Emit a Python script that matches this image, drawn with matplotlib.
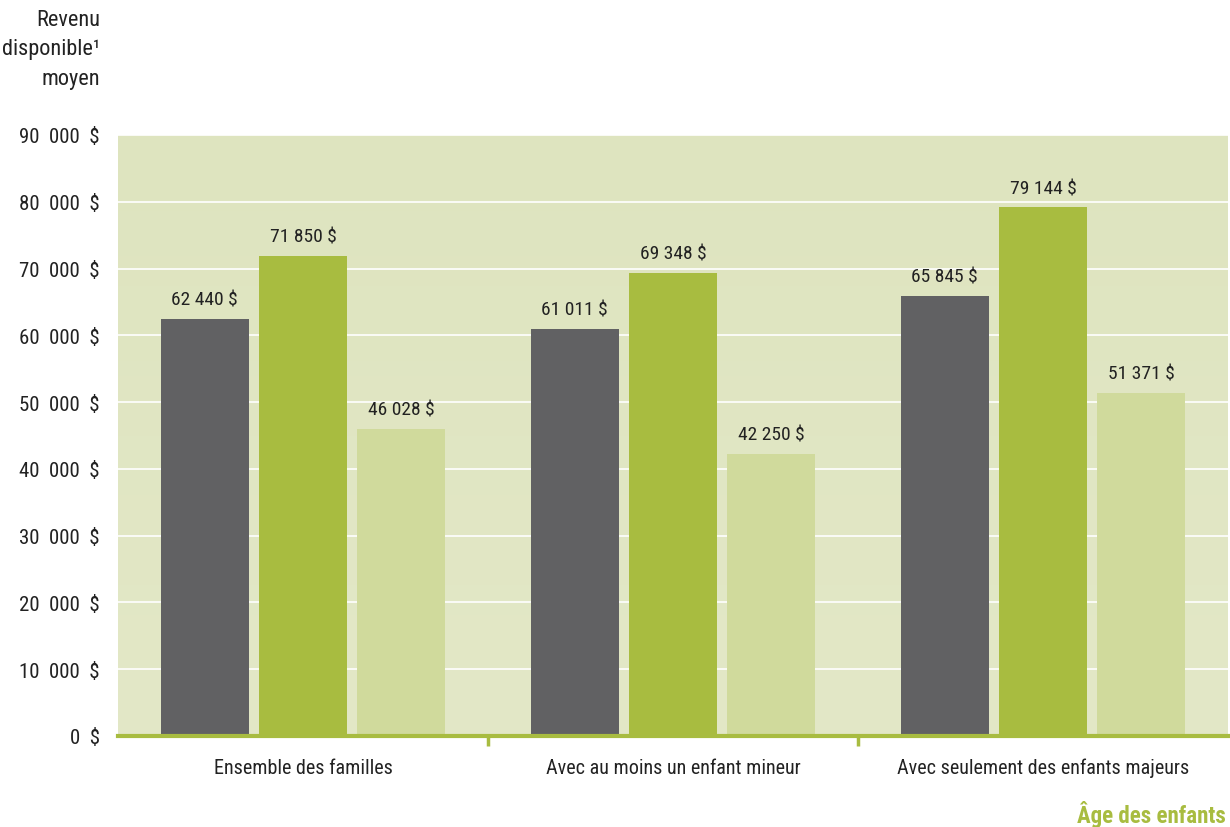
import matplotlib
matplotlib.use("Agg")
import matplotlib.pyplot as plt
import numpy as np
from matplotlib import font_manager

names = {f.name for f in font_manager.fontManager.ttflist}
FONT = "Roboto"
for cand in ["Liberation Sans Narrow", "Roboto Condensed"]:
    if cand in names:
        FONT = cand
        break
plt.rcParams['font.family'] = [FONT, 'DejaVu Sans']

categories = ["Ensemble des familles", "Avec au moins un enfant mineur",
              "Avec seulement des enfants majeurs"]
series_dark = [62440, 61011, 65845]
series_green = [71850, 69348, 79144]
series_light = [46028, 42250, 51371]
yticks = [0, 10000, 20000, 30000, 40000, 50000, 60000, 70000, 80000, 90000]

def fmt(v, sep=" "):
    s = f"{v:,}".replace(",", sep)
    return s + sep + "$"

TXT = '#222222'
fig = plt.figure(figsize=(12.3, 8.28), dpi=100)
ax = fig.add_axes([118/1230, 1-737/828, 1110/1230, (737-136)/828])

# gradient background
grad = np.linspace(0, 1, 256).reshape(-1, 1)
c_bot = np.array([227, 232, 199]) / 255
c_top = np.array([222, 228, 191]) / 255
img = c_bot[None, None, :] * (1 - grad[:, :, None]) + c_top[None, None, :] * grad[:, :, None]
ax.imshow(img, extent=[-0.5, 2.5, 0, 90000], aspect='auto', origin='lower', zorder=0)

x = np.arange(len(categories))
w = 0.238
off = 0.266
colors = ["#616163", "#A8BC40", "#D0DA9C"]
for i, (vals, c) in enumerate(zip([series_dark, series_green, series_light], colors)):
    xs = x + (i - 1) * off
    ax.bar(xs, vals, width=w, color=c, zorder=3)
    for xi, v in zip(xs, vals):
        ax.text(xi, v + 2900, fmt(v), ha='center', va='center', fontsize=14, color=TXT)

ax.set_xlim(-0.5, 2.5)
ax.set_ylim(0, 90000)
for t in yticks[1:]:
    ax.axhline(t, color='white', lw=1.2, zorder=1)
ax.set_yticks(yticks)
ax.set_yticklabels([fmt(t, "  ") if t else "0  $" for t in yticks], fontsize=15, color=TXT)
ax.tick_params(axis='y', length=0, pad=13)

ax.set_xticks([0.5, 1.5])
ax.set_xticklabels([])
ax.tick_params(axis='x', length=7, width=2.5, color='#A8BC40', direction='out')
for xi, lab in zip(x, categories):
    ax.text(xi, -4700, lab, ha='center', va='center', fontsize=14.5, color=TXT)

for s in ['top', 'right', 'left']:
    ax.spines[s].set_visible(False)
ax.spines['bottom'].set_color('#A8BC40')
ax.spines['bottom'].set_linewidth(3)
ax.spines['bottom'].set_zorder(4)

fig.text(100/1230, 1-20/828, "Revenu", ha='right', va='center', fontsize=16, color=TXT)
fig.text(100/1230, 1-50/828, "disponible\u00b9", ha='right', va='center', fontsize=16, color=TXT)
fig.text(100/1230, 1-80/828, "moyen", ha='right', va='center', fontsize=16, color=TXT)

fig.text(1226/1230, 1-815/828, "Âge des enfants", ha='right', va='center', fontsize=16.5,
         fontweight='bold', color='#A8BC40')

fig.savefig("out.png", dpi=100)
